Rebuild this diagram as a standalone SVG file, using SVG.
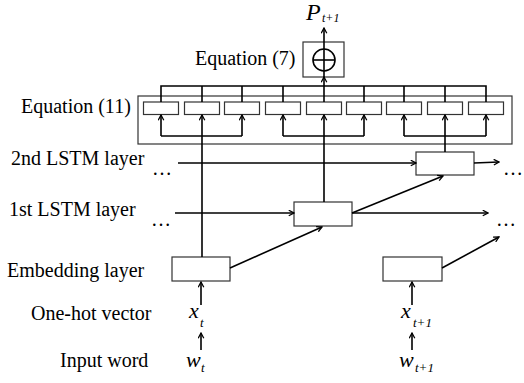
<svg xmlns="http://www.w3.org/2000/svg" width="524" height="383" viewBox="0 0 524 383">
<style>
.lbl{font-family:"Liberation Serif","Times New Roman",serif;font-size:20px;fill:#000}
.it{font-family:"Liberation Serif","Times New Roman",serif;font-style:italic;fill:#000}
.box{fill:#fff;stroke:#333;stroke-width:1.2}
.ln{fill:none;stroke:#000;stroke-width:1.6}
.arr{fill:none;stroke:#000;stroke-width:1.6;marker-end:url(#ah)}
</style>
<defs>
<marker id="ah" viewBox="0 0 10 10" refX="9" refY="5" markerWidth="7" markerHeight="7" markerUnits="userSpaceOnUse" orient="auto">
<path d="M1.5,1 L9,5 L1.5,9" fill="none" stroke="#000" stroke-width="1.8"/>
</marker>
</defs>
<rect width="524" height="383" fill="#fff"/>

<g id="labels">
<text class="lbl" x="21" y="113">Equation (11)</text>
<text class="lbl" x="11" y="165">2nd LSTM layer</text>
<text class="lbl" x="9" y="216">1st LSTM layer</text>
<text class="lbl" x="7" y="277">Embedding layer</text>
<text class="lbl" x="31" y="320">One-hot vector</text>
<text class="lbl" x="60" y="367">Input word</text>
</g>

<g id="eq11">
<rect class="box" x="138" y="96" width="374" height="48"/>
<rect class="box" x="143.5" y="102" width="35" height="12.5"/>
<rect class="box" x="184.5" y="102" width="35" height="12.5"/>
<rect class="box" x="224.5" y="102" width="35" height="12.5"/>
<rect class="box" x="265.5" y="102" width="35" height="12.5"/>
<rect class="box" x="306.5" y="102" width="35" height="12.5"/>
<rect class="box" x="346.5" y="102" width="35" height="12.5"/>
<rect class="box" x="386.5" y="102" width="35" height="12.5"/>
<rect class="box" x="427.5" y="102" width="35" height="12.5"/>
<rect class="box" x="468.5" y="102" width="35" height="12.5"/>
</g>

<g id="eq7">
<rect class="box" x="303" y="42" width="41" height="35"/>
<circle cx="324" cy="60" r="11" fill="none" stroke="#000" stroke-width="1.6"/>
<line class="ln" x1="313" y1="60" x2="335" y2="60"/>
<text class="lbl" x="195" y="65">Equation (7)</text>
</g>

<g id="output">
<text class="it" x="306" y="19.5" font-size="24">P</text>
<text class="it" x="322" y="22" font-size="12">t+1</text>
</g>

<g id="lstm2"><rect class="box" x="416" y="152" width="58" height="23"/></g>
<g id="lstm1"><rect class="box" x="294" y="202" width="58" height="24"/></g>
<g id="emb1"><rect class="box" x="172" y="257" width="58" height="24"/></g>
<g id="emb2"><rect class="box" x="383" y="257" width="59" height="24"/></g>

<g id="inputs">
<text class="it" x="189" y="318" font-size="22">x</text>
<text class="it" x="200" y="327" font-size="13">t</text>
<text class="it" x="186" y="367" font-size="22">w</text>
<text class="it" x="201" y="372" font-size="13">t</text>
<text class="it" x="401" y="318" font-size="22">x</text>
<text class="it" x="413" y="327" font-size="13">t+1</text>
<text class="it" x="399" y="367" font-size="22">w</text>
<text class="it" x="415" y="372" font-size="13">t+1</text>
</g>

<g id="dots">
<text class="lbl" x="152" y="175">…</text>
<text class="lbl" x="503" y="175">…</text>
<text class="lbl" x="151" y="226">…</text>
<text class="lbl" x="496" y="226">…</text>
</g>

<g id="connectors">
<polyline class="ln" points="161,102 161,86 486,86 486,102"/>
<line class="ln" x1="202" y1="86" x2="202" y2="102"/>
<line class="ln" x1="242" y1="86" x2="242" y2="102"/>
<line class="ln" x1="283" y1="86" x2="283" y2="102"/>
<line class="ln" x1="324" y1="86" x2="324" y2="102"/>
<line class="ln" x1="364" y1="86" x2="364" y2="102"/>
<line class="ln" x1="404" y1="86" x2="404" y2="102"/>
<line class="ln" x1="445" y1="86" x2="445" y2="102"/>
<line class="arr" x1="324" y1="86" x2="324" y2="77"/>
<line class="arr" x1="324" y1="77" x2="324" y2="28"/>
<polyline class="ln" points="161,136 242,136"/>
<line class="arr" x1="161" y1="136" x2="161" y2="115"/>
<line class="arr" x1="242" y1="136" x2="242" y2="115"/>
<polyline class="ln" points="283,136 364,136"/>
<line class="arr" x1="283" y1="136" x2="283" y2="115"/>
<line class="arr" x1="364" y1="136" x2="364" y2="115"/>
<polyline class="ln" points="404,136 486,136"/>
<line class="arr" x1="404" y1="136" x2="404" y2="115"/>
<line class="arr" x1="486" y1="136" x2="486" y2="115"/>
<line class="arr" x1="202" y1="257" x2="202" y2="115"/>
<line class="arr" x1="324" y1="202" x2="324" y2="115"/>
<line class="arr" x1="445" y1="152" x2="445" y2="115"/>
<line class="arr" x1="178" y1="163" x2="416" y2="163"/>
<line class="arr" x1="474" y1="163" x2="499" y2="162"/>
<line class="arr" x1="175" y1="213" x2="294" y2="213"/>
<line class="arr" x1="352" y1="213" x2="488" y2="213"/>
<line class="arr" x1="352" y1="213" x2="443" y2="176"/>
<line class="arr" x1="230" y1="268" x2="322" y2="227"/>
<line class="arr" x1="442" y1="268" x2="499" y2="237"/>
<line class="arr" x1="201" y1="305" x2="201" y2="282"/>
<line class="arr" x1="201" y1="350" x2="201" y2="333"/>
<line class="arr" x1="412" y1="305" x2="412" y2="282"/>
<line class="arr" x1="412" y1="350" x2="412" y2="333"/>
</g>
</svg>
